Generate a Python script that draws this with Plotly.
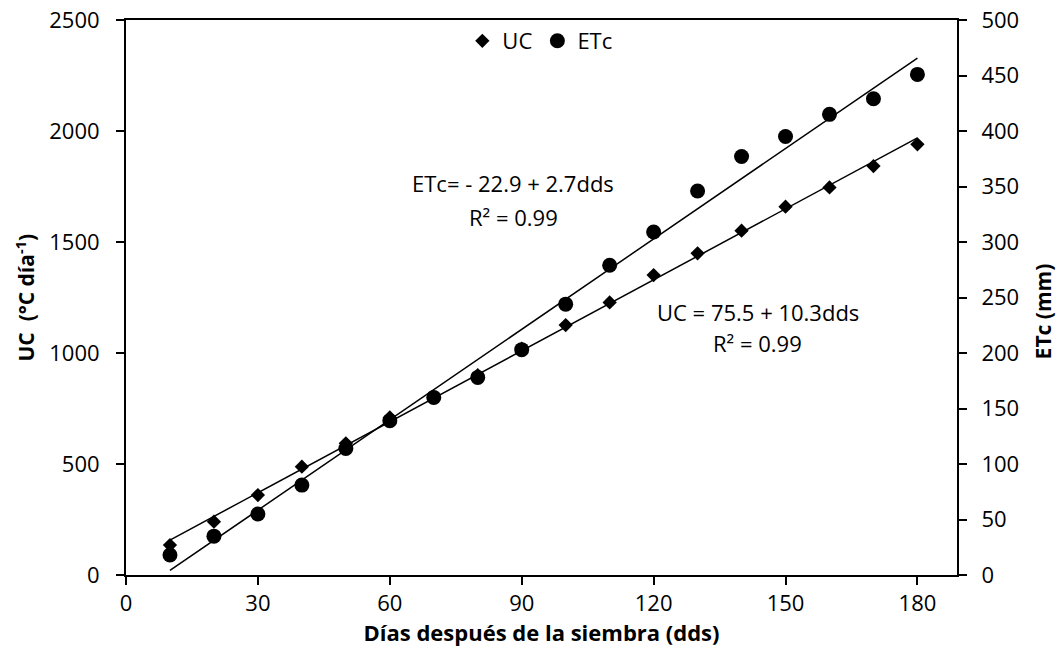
import numpy as np
import plotly.graph_objects as go

# Data
dds = [10, 20, 30, 40, 50, 60, 70, 80, 90, 100, 110, 120, 130, 140, 150, 160, 170, 180]
uc = [135, 240, 360, 488, 593, 710, 800, 900, 1020, 1126, 1228, 1351, 1449, 1551, 1659, 1746, 1842, 1940]
etc = [18, 35, 55, 81, 114, 139, 160, 178, 203, 244, 279, 309, 346, 377, 395, 415, 429, 451]

x_ticks = [0, 30, 60, 90, 120, 150, 180]
uc_ticks = [0, 500, 1000, 1500, 2000, 2500]
etc_ticks = [0, 50, 100, 150, 200, 250, 300, 350, 400, 450, 500]

eq_etc = ["ETc= - 22.9 + 2.7dds", "R² = 0.99"]
eq_uc = ["UC = 75.5 + 10.3dds", "R² = 0.99"]

FONT = "Open Sans"

x_arr = np.array(dds, dtype=float)
fit_x = np.array([min(dds), max(dds)], dtype=float)
b_uc, a_uc = np.polyfit(x_arr, np.array(uc, dtype=float), 1)
b_et, a_et = np.polyfit(x_arr, np.array(etc, dtype=float), 1)

fig = go.Figure()

fig.add_trace(go.Scatter(
    x=fit_x, y=a_uc + b_uc * fit_x, mode="lines", showlegend=False,
    line=dict(color="black", width=1.5), hoverinfo="skip",
))
fig.add_trace(go.Scatter(
    x=fit_x, y=a_et + b_et * fit_x, mode="lines", showlegend=False, yaxis="y2",
    line=dict(color="black", width=1.5), hoverinfo="skip",
))
fig.add_trace(go.Scatter(
    x=dds, y=uc, mode="markers", name="UC",
    marker=dict(symbol="diamond", size=11, color="black"),
))
fig.add_trace(go.Scatter(
    x=dds, y=etc, mode="markers", name="ETc", yaxis="y2",
    marker=dict(symbol="circle", size=15, color="black"),
))

axis_common = dict(
    showline=True, linecolor="black", linewidth=2,
    ticks="outside", ticklen=8, tickwidth=1.5, tickcolor="black",
    showgrid=False, zeroline=False, automargin=False,
    ticklabeloverflow="allow",
    tickfont=dict(family=FONT, size=22, color="black"),
)

fig.update_layout(
    template="none",
    width=1060, height=657,
    margin=dict(l=126, r=103, t=20, b=82, pad=0),
    paper_bgcolor="white", plot_bgcolor="white",
    font=dict(family=FONT, color="black"),
    xaxis=dict(
        range=[0, 189], tickvals=x_ticks, mirror=True,
        title=dict(text="<b>Días después de la siembra (dds)</b>",
                   font=dict(family=FONT, size=22, color="black"), standoff=4),
        **axis_common,
    ),
    yaxis=dict(
        range=[0, 2500], tickvals=uc_ticks, ticklabelstandoff=12,
        **axis_common,
    ),
    yaxis2=dict(
        range=[0, 500], tickvals=etc_ticks, overlaying="y", side="right",
        ticklabelstandoff=10,
        **axis_common,
    ),
    legend=dict(
        orientation="h", x=0.498, xanchor="center", y=1.0, yanchor="top",
        font=dict(family=FONT, size=22, color="black"),
        bgcolor="rgba(0,0,0,0)", itemwidth=30, tracegroupgap=0,
    ),
    showlegend=True,
)

# axis titles (rotated)
title_font = dict(family=FONT, size=21, color="black")
fig.add_annotation(x=-0.1215, y=0.5, xref="paper", yref="paper",
                   text="<b>UC\u00a0 (°C día<sup>-1</sup>)</b>", textangle=-90,
                   xanchor="center", yanchor="middle", showarrow=False,
                   font=title_font)
fig.add_annotation(x=1.1035, y=0.475, xref="paper", yref="paper",
                   text="<b>ETc (mm)</b>", textangle=-90,
                   xanchor="center", yanchor="middle", showarrow=False,
                   font=title_font)

ann_font = dict(family=FONT, size=22, color="black")
for txt, xp, yp in [(eq_etc[0], 0.466, 0.706), (eq_etc[1], 0.466, 0.645),
                    (eq_uc[0], 0.7605, 0.474), (eq_uc[1], 0.7605, 0.418)]:
    fig.add_annotation(x=xp, y=yp, xref="paper", yref="paper", text=txt,
                       xanchor="center", yanchor="middle",
                       showarrow=False, font=ann_font)

fig.write_html(
    "out.html",
    config={"displayModeBar": False},
    post_script="document.body.style.margin='0';document.body.style.overflow='hidden';",
)
